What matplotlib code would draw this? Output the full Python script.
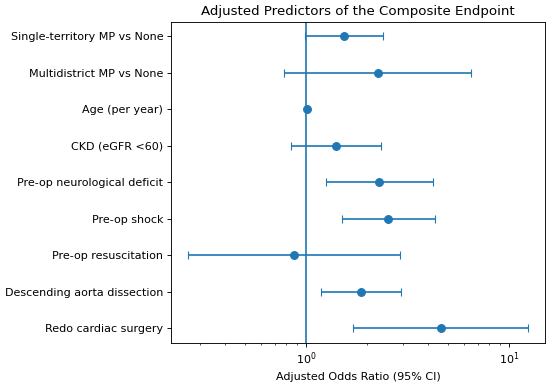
import numpy as np
import matplotlib
matplotlib.use('Agg')
from matplotlib import pyplot as plt

labels = ['Single-territory MP vs None', 'Multidistrict MP vs None', 'Age (per year)',
          'CKD (eGFR <60)', 'Pre-op neurological deficit', 'Pre-op shock',
          'Pre-op resuscitation', 'Descending aorta dissection', 'Redo cardiac surgery']
odds = [1.53, 2.25, 1.01, 1.40, 2.29, 2.54, 0.87, 1.86, 4.60]
ci_low = [0.985, 0.78, 1.00, 0.84, 1.26, 1.50, 0.262, 1.18, 1.71]
ci_high = [2.39, 6.47, 1.02, 2.33, 4.22, 4.31, 2.91, 2.95, 12.4]

odds = np.array(odds)
err = [odds - np.array(ci_low), np.array(ci_high) - odds]
y = np.arange(len(labels))

dpi = 80
fig, ax = plt.subplots(figsize=(550 / dpi, 385 / dpi), dpi=dpi)
ax.errorbar(odds, y, xerr=err, fmt='o', color='C0', capsize=4, markersize=7)
ax.axvline(1, color='C0', linewidth=1.5)
ax.set_xscale('log')
ax.set_yticks(y)
ax.set_yticklabels(labels)
ax.invert_yaxis()
ax.set_xlabel('Adjusted Odds Ratio (95% CI)')
ax.set_title('Adjusted Predictors of the Composite Endpoint', fontsize=12)
fig.subplots_adjust(left=0.311, right=0.991, top=0.944, bottom=0.109)
fig.savefig('out.png', dpi=dpi)
